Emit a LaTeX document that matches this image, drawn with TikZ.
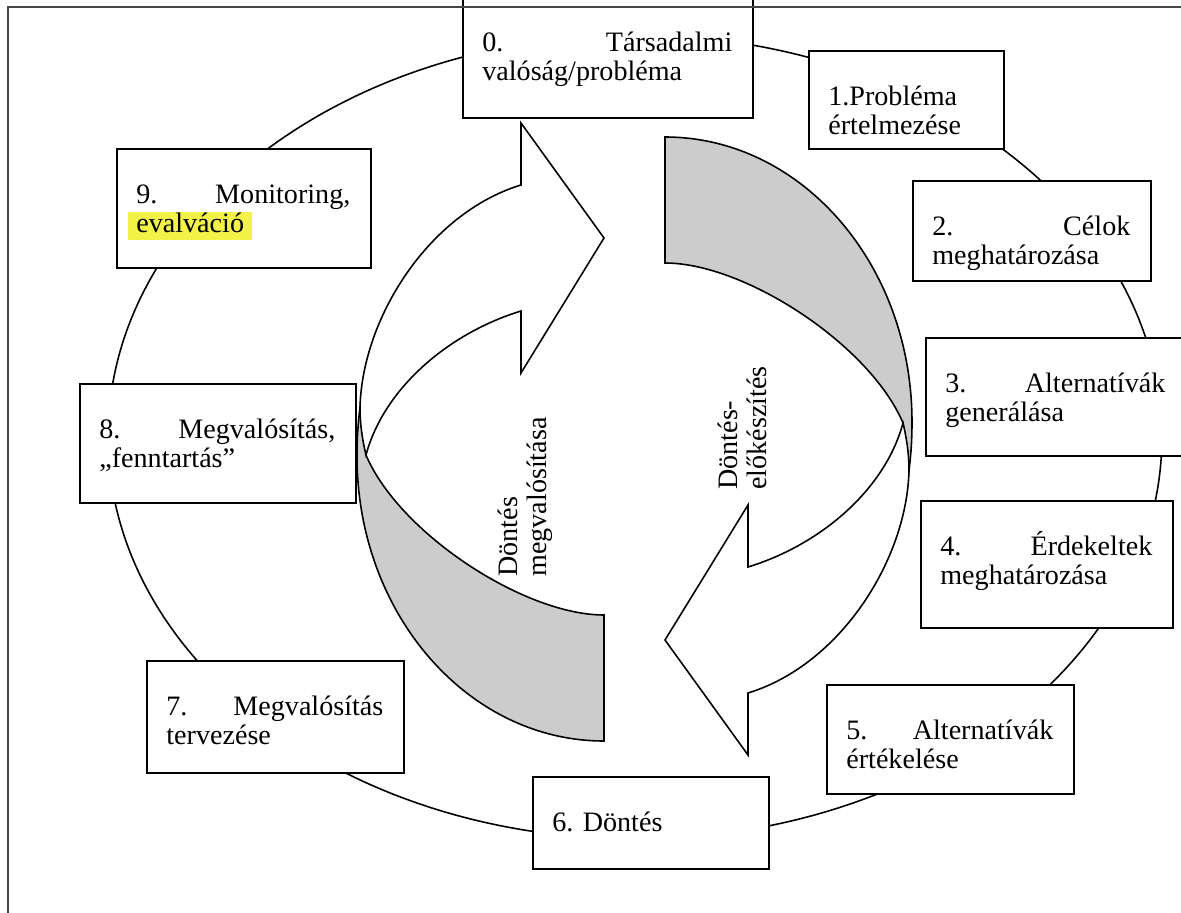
\documentclass[tikz,border=0pt]{standalone}
\usepackage{fontspec}
\setmainfont{Liberation Serif}
\frenchspacing
\definecolor{szurke}{RGB}{204,204,204}
\definecolor{kiemel}{RGB}{242,242,72}
\definecolor{keret}{RGB}{70,70,70}
\begin{document}
\begin{tikzpicture}[x=0.02cm,y=-0.02cm,
    doboz/.style={draw,fill=white,line width=1.1pt,inner sep=0pt,anchor=north west},
    szoveg/.style={anchor=base west,inner sep=0pt,align=left,font=\fontsize{16}{17}\selectfont},
    szalag/.style={draw,line width=0.9pt,line join=miter}]
    \useasboundingbox(0,0)rectangle(1181,913);
    \draw[line width=0.9pt](635,437)ellipse[x radius=10.54cm,y radius=8.04cm];
    \foreach \n/\x/\y/\w/\h/\felirat in{
        0/462/-4/290/121/{0.\hfill Társadalmi\\valóság/probléma},
        1/808/50/195/98/{1.Probléma\\értelmezése},
        2/912/180/238/100/{2.\hfill Célok\\meghatározása},
        3/925/337/260/118/{3.\hfill Alternatívák\\generálása},
        4/920/500/252/127/{4.\hfill Érdekeltek\\meghatározása},
        5/826/684/247/109/{5.\hfill Alternatívák\\értékelése},
        6/532/776/236/92/{6. Döntés},
        7/146/660/257/112/{7.\hfill Megvalósítás\\tervezése},
        8/79/383/276/119/{8.\hfill Megvalósítás,\\„fenntartás”},
        9/116/148/254/119/{9.\hfill Monitoring,\\{\setlength{\fboxsep}{0pt}\hspace*{-4.5pt}\colorbox{kiemel}{\rule[-4pt]{0pt}{16pt}\hspace{4.5pt}evalváció\hspace{4.5pt}}}}}{
        \node[doboz,minimum width=\w*0.02cm,minimum height=\h*0.02cm](s\n)at(\x,\y){};
        \node[szoveg,text width=(\w-40)*0.02cm](t\n)at([shift={(20,55)}]s\n.north west){\felirat};
    }
    \foreach \fok in{0,180}{
        \begin{scope}[rotate around={\fok:(634.5,439)}]
            \draw[szalag,fill=szurke](665,137).. controls (801,137) and (912,264) ..(912,422)
                .. controls (912,440) and (911,455) ..(909,470)--(903,423)
                .. controls (870,345) and (745,263) ..(665,263)--cycle;
            \draw[szalag,fill=white](903,423).. controls (907,440) and (909,455) ..(909,470)
                .. controls (907,560) and (840,665) ..(748,693)
                --(748,755)--(665,640)--(748,505)--(748,567)
                .. controls (820,545) and (885,490) ..cycle;
        \end{scope}
    }
    \node[szoveg,rotate=90,text width=3cm](elo)at(737,490){Döntés-\\előkészítés};
    \node[szoveg,rotate=90,text width=3cm](meg)at(517,577){Döntés\\megvalósítása};
    \draw[line width=1.6pt,keret](1181,7)--(8,7)--(8,913);
\end{tikzpicture}
\end{document}
